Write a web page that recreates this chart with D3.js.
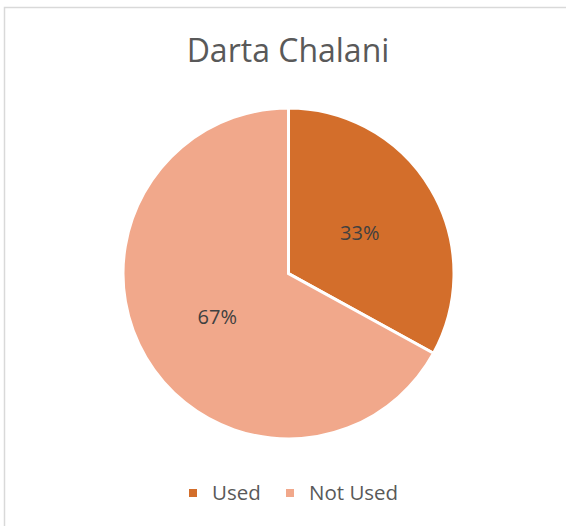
<!DOCTYPE html>
<html>
<head>
<meta charset="utf-8">
<script src="https://cdn.jsdelivr.net/npm/d3@7"></script>
<style>
  body { margin: 0; background: #fff; }
  svg { display: block; }
</style>
</head>
<body>
<svg id="chart" width="566" height="526"></svg>
<script>
// --- Data ---
const categories = ["Used", "Not Used"];
const values = [33, 67];
const colors = ["#D36E2B", "#F1A88B"];
const title = "Darta Chalani";

const W = 566, H = 526;
const svg = d3.select("#chart");
const font = "'Open Sans', 'Noto Sans', sans-serif";

// chart frame (runs off the right and bottom edges)
svg.append("rect")
    .attr("x", 4.5).attr("y", 7.5)
    .attr("width", W + 10).attr("height", H + 10)
    .attr("fill", "#fff")
    .attr("stroke", "#d9d9d9")
    .attr("stroke-width", 1.5);

// --- Title ---
svg.append("text")
    .attr("x", 288).attr("y", 62)
    .attr("text-anchor", "middle")
    .style("font-family", font)
    .style("font-size", "32px")
    .attr("fill", "#595959")
    .text(title);

// --- Pie ---
const cx = 288.5, cy = 273.5, R = 165.5;
const g = svg.append("g").attr("transform", `translate(${cx},${cy})`);

const pie = d3.pie().sort(null).value(d => d.value);
const arc = d3.arc().innerRadius(0).outerRadius(R);
const labelArc = d3.arc().innerRadius(0).outerRadius(R);

const data = categories.map((c, i) => ({ name: c, value: values[i], color: colors[i] }));
const total = d3.sum(values);
const arcs = pie(data);

g.selectAll("path")
    .data(arcs)
    .enter()
    .append("path")
    .attr("d", arc)
    .attr("fill", d => d.data.color)
    .attr("stroke", "#fff")
    .attr("stroke-width", 3)
    .attr("stroke-linejoin", "miter");

g.selectAll("text.lbl")
    .data(arcs)
    .enter()
    .append("text")
    .attr("class", "lbl")
    .attr("transform", d => `translate(${labelArc.centroid(d)})`)
    .attr("text-anchor", "middle")
    .attr("dy", "0.42em")
    .style("font-family", font)
    .style("font-size", "20px")
    .attr("fill", "#404040")
    .text(d => Math.round(d.data.value / total * 100) + "%");

// --- Legend ---
const legend = svg.append("g").attr("transform", "translate(0,493)");
const legendX = [189, 286];
data.forEach((d, i) => {
    const item = legend.append("g").attr("transform", `translate(${legendX[i]},0)`);
    item.append("rect")
        .attr("x", 0).attr("y", -4)
        .attr("width", 8).attr("height", 8)
        .attr("fill", d.color);
    item.append("text")
        .attr("x", 23).attr("y", 7)
        .style("font-family", font)
        .style("font-size", "20.5px")
        .attr("fill", "#595959")
        .text(d.name);
});
</script>
</body>
</html>
